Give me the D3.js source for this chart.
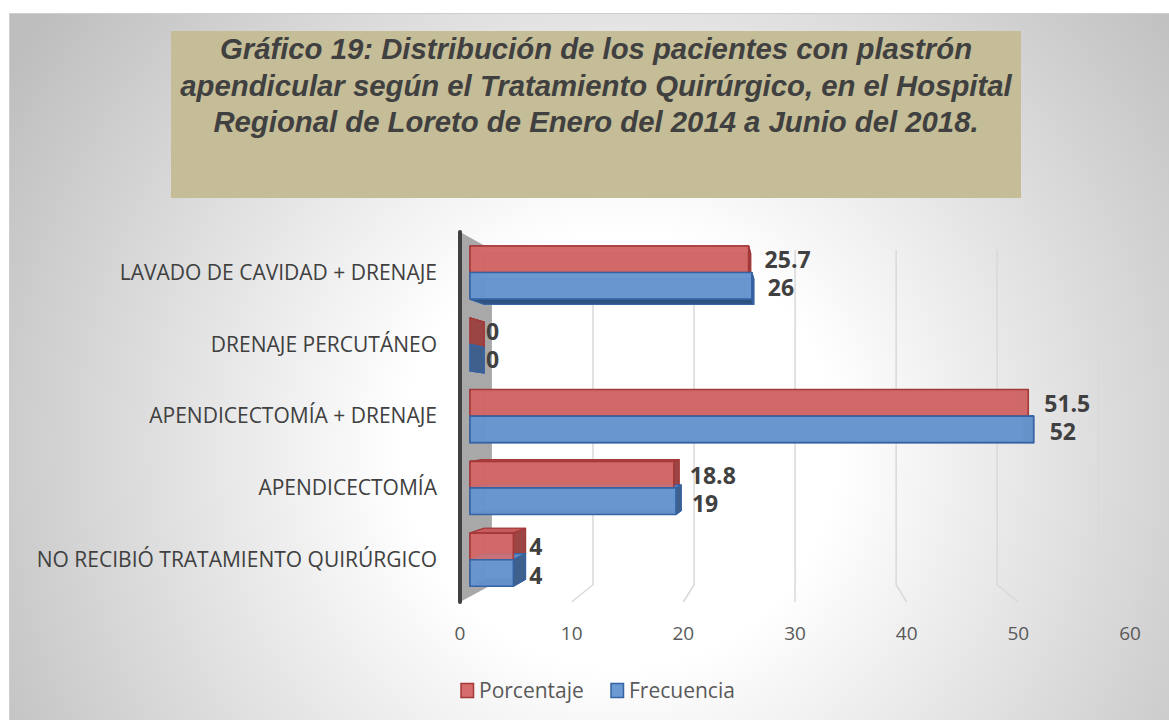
<html>
<head>
<meta charset="utf-8">
<script src="https://d3js.org/d3.v7.min.js"></script>
<style>
  body { margin: 0; background: #fff; }
</style>
</head>
<body>
<div id="output"></div>
<script>
    var width = 1169, height = 720;

    // data
    var categories = ['LAVADO DE CAVIDAD + DRENAJE', 'DRENAJE PERCUTÁNEO', 'APENDICECTOMÍA + DRENAJE', 'APENDICECTOMÍA', 'NO RECIBIÓ TRATAMIENTO QUIRÚRGICO'];
    var seriesNames = ['Porcentaje', 'Frecuencia'];
    var porcentaje = [25.7, 0, 51.5, 18.8, 4];
    var frecuencia = [26, 0, 52, 19, 4];
    var tickValues = [0, 10, 20, 30, 40, 50, 60];
    var titleLines = [
        'Gráfico 19: Distribución de los pacientes con plastrón',
        'apendicular según el Tratamiento Quirúrgico, en el Hospital',
        'Regional de Loreto de Enero del 2014 a Junio del 2018.'
    ];

    var palette = {
        Porcentaje: { front: '#d66d6d', top: '#c65b5b', bottom: '#8e3434', right: '#9b4545', left: '#b54a4a', back: '#b04848', stroke: '#a43838' },
        Frecuencia: { front: '#6c9ad3', top: '#5b88c4', bottom: '#2f5180', right: '#3f5f8c', left: '#4a72aa', back: '#4f78b0', stroke: '#3563a3' }
    };

    // perspective: vanishing point and depth factors
    var vp = [796, 420];
    var kWall = 0.905;  // back wall
    var kBar = 0.957;   // bar depth

    var project = function(p, k) {
        return [vp[0] + (p[0] - vp[0]) * k, vp[1] + (p[1] - vp[1]) * k];
    };
    var pathOf = function(pts) {
        return 'M' + pts.map(p => p[0] + ',' + p[1]).join('L') + 'Z';
    };

    var svg = d3.select('#output').append('svg')
        .attr('width', width)
        .attr('height', height);

    // background
    var defs = svg.append('defs');
    var grad = defs.append('radialGradient')
        .attr('id', 'bg')
        .attr('gradientUnits', 'userSpaceOnUse')
        .attr('cx', 620).attr('cy', 450).attr('r', 720);
    grad.append('stop').attr('offset', 0).attr('stop-color', '#ffffff');
    grad.append('stop').attr('offset', 0.3).attr('stop-color', '#ffffff');
    grad.append('stop').attr('offset', 1).attr('stop-color', '#bebebe');

    svg.append('rect')
        .attr('x', 9.5).attr('y', 13.5)
        .attr('width', width).attr('height', height)
        .attr('fill', 'url(#bg)')
        .attr('stroke', '#cfcfcf');

    // title box
    svg.append('rect')
        .attr('x', 171).attr('y', 31)
        .attr('width', 850).attr('height', 167)
        .attr('fill', '#c4bd97');

    svg.append('g').selectAll('text')
        .data(titleLines)
        .join('text')
        .attr('x', 596)
        .attr('y', (d, i) => 59 + i * 36.5)
        .attr('text-anchor', 'middle')
        .attr('font-family', 'Liberation Sans, Arial, sans-serif')
        .attr('font-weight', 'bold')
        .attr('font-style', 'italic')
        .attr('font-size', 29.3)
        .attr('fill', '#404040')
        .text(d => d);

    // scales
    var xFront = d3.scaleLinear().domain([0, 60]).range([460, 1130]);
    var xBar = d3.scaleLinear().domain([0, 60]).range([470, 470 + 10.84 * 60]);
    var y = d3.scaleBand().domain(categories).range([236.6, 595.6]).paddingInner(0.26).paddingOuter(0.13);
    var ySeries = d3.scaleBand().domain(seriesNames).range([0, y.bandwidth()]);

    var wallTop = 232, wallBottom = 602;

    // side wall
    svg.append('path')
        .attr('d', pathOf([[xFront(0), wallTop], project([xFront(0), wallTop], kWall),
                           project([xFront(0), wallBottom], kWall), [xFront(0), wallBottom]]))
        .attr('fill', '#a8a8a8');

    // gridlines on back wall + floor
    var grid = svg.append('g');
    tickValues.filter(v => v > 0).forEach(v => {
        var top = project([xFront(v), wallTop], kWall);
        var bot = project([xFront(v), wallBottom], kWall);
        grid.append('path')
            .attr('d', 'M' + top + 'L' + bot + 'L' + [xFront(v), wallBottom])
            .attr('fill', 'none')
            .attr('stroke', '#d9d9d9')
            .attr('stroke-width', 1.5);
    });

    // axis line
    svg.append('line')
        .attr('x1', xFront(0)).attr('x2', xFront(0))
        .attr('y1', wallTop).attr('y2', wallBottom)
        .attr('stroke', '#404040')
        .attr('stroke-width', 4)
        .attr('stroke-linecap', 'round');

    // tick labels
    svg.append('g').selectAll('text')
        .data(tickValues)
        .join('text')
        .attr('x', d => xFront(d))
        .attr('y', 633)
        .attr('dy', '0.35em')
        .attr('text-anchor', 'middle')
        .attr('font-family', 'Open Sans, sans-serif')
        .attr('font-size', 19)
        .attr('fill', '#595959')
        .text(d => d);

    // category labels
    svg.append('g').selectAll('text')
        .data(categories)
        .join('text')
        .attr('x', 437)
        .attr('y', d => y(d) + y.bandwidth() / 2)
        .attr('dy', '0.35em')
        .attr('text-anchor', 'end')
        .attr('font-family', 'Open Sans, sans-serif')
        .attr('font-size', 21)
        .attr('fill', '#404040')
        .text(d => d);

    // bars
    var bars = [];
    categories.forEach((c, i) => {
        bars.push({ cat: c, series: 'Porcentaje', value: porcentaje[i] });
        bars.push({ cat: c, series: 'Frecuencia', value: frecuencia[i] });
    });

    var boxes = bars.map(b => {
        var x0 = xBar(0), x1 = xBar(b.value);
        var y0 = y(b.cat) + ySeries(b.series), y1 = y0 + ySeries.bandwidth();
        var A = [x0, y0], B = [x1, y0], C = [x1, y1], D = [x0, y1];
        var A2 = project(A, kBar), B2 = project(B, kBar), C2 = project(C, kBar), D2 = project(D, kBar);
        return { b: b, A: A, B: B, C: C, D: D, A2: A2, B2: B2, C2: C2, D2: D2 };
    });

    var sides = svg.append('g');
    boxes.forEach(o => {
        var col = palette[o.b.series];
        var faces = [
            ['back', [o.A2, o.B2, o.C2, o.D2]],
            ['left', [o.A, o.A2, o.D2, o.D]],
            ['bottom', [o.D, o.C, o.C2, o.D2]],
            ['top', [o.A, o.B, o.B2, o.A2]],
            ['right', [o.B, o.B2, o.C2, o.C]]
        ];
        faces.forEach(f => {
            sides.append('path')
                .attr('d', pathOf(f[1]))
                .attr('fill', col[f[0]])
                .attr('stroke', col.stroke)
                .attr('stroke-width', 1.2)
                .attr('stroke-linejoin', 'round');
        });
    });

    var fronts = svg.append('g');
    boxes.filter(o => o.b.value > 0).forEach(o => {
        var col = palette[o.b.series];
        fronts.append('path')
            .attr('d', pathOf([o.A, o.B, o.C, o.D]))
            .attr('fill', col.front)
            .attr('fill-opacity', 0.88)
            .attr('stroke', col.stroke)
            .attr('stroke-width', 1.6)
            .attr('stroke-linejoin', 'round');
    });

    // data labels (red slightly up, blue slightly down, like the original)
    svg.append('g').selectAll('text')
        .data(bars)
        .join('text')
        .attr('x', d => xBar(d.value) + 16)
        .attr('y', d => y(d.cat) + ySeries(d.series) + ySeries.bandwidth() / 2 + (d.series === 'Porcentaje' ? 1 : 2.5))
        .attr('dy', '0.35em')
        .attr('font-family', 'Open Sans, sans-serif')
        .attr('font-weight', 'bold')
        .attr('font-size', 23)
        .attr('fill', '#404040')
        .text(d => d.value);

    // legend
    var legend = svg.append('g');
    var legendX = [461, 611];
    seriesNames.forEach((s, i) => {
        legend.append('rect')
            .attr('x', legendX[i]).attr('y', 683.5)
            .attr('width', 12.5).attr('height', 14)
            .attr('fill', palette[s].front)
            .attr('stroke', palette[s].stroke)
            .attr('stroke-width', 1.5);
        legend.append('text')
            .attr('x', legendX[i] + 18)
            .attr('y', 691)
            .attr('dy', '0.35em')
            .attr('font-family', 'Open Sans, sans-serif')
            .attr('font-size', 21)
            .attr('fill', '#595959')
            .text(s);
    });
</script>
</body>
</html>
